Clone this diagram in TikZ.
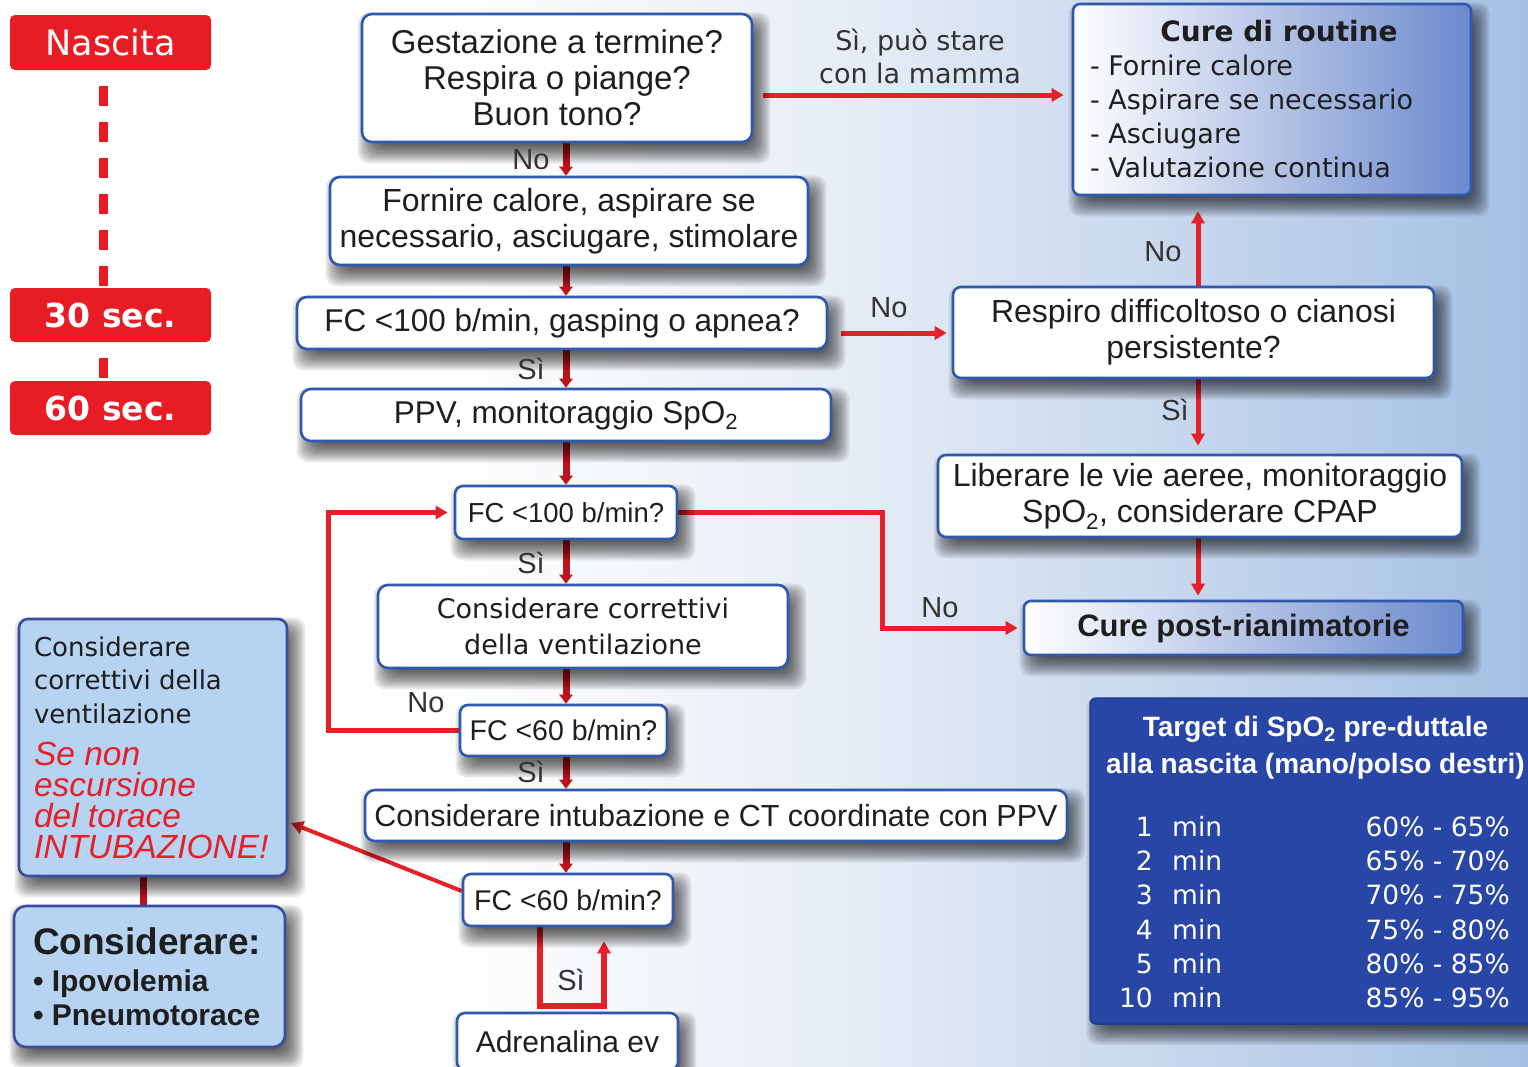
\documentclass[tikz,border=0pt]{standalone}
\usepackage{fontspec}
\setmainfont{Liberation Sans}
\newfontfamily\dvsans{DejaVu Sans}
\usetikzlibrary{arrows.meta,calc}
\setlength{\parindent}{0pt}
% use the natural interword space of the current font inside aligned nodes
\newcommand\fontspaces{\spaceskip=0pt\xspaceskip=0pt\relax}

\definecolor{bgmid}{RGB}{232,238,246}
\definecolor{bgright}{RGB}{165,192,228}
\definecolor{boxline}{RGB}{48,88,172}
\definecolor{arrowred}{RGB}{230,32,40}
\definecolor{darkred}{RGB}{188,18,28}
\definecolor{timered}{RGB}{232,28,36}
\definecolor{routblue}{RGB}{108,138,205}
\definecolor{tabblue}{RGB}{40,70,165}
\definecolor{sideblue}{RGB}{182,212,242}
\definecolor{sideline}{RGB}{58,78,160}
\definecolor{ink}{RGB}{30,30,30}
\definecolor{tagink}{RGB}{50,50,50}

% page background: white on the left, light blue on the right
\pgfdeclarehorizontalshading{pagebg}{100bp}{color(0bp)=(white); color(25bp)=(white); color(39bp)=(white); color(52bp)=(bgmid); color(75bp)=(bgright); color(100bp)=(bgright)}

\pgfdeclarelayer{back}
\pgfdeclarelayer{wires}
\pgfdeclarelayer{shadowlayer}
\pgfsetlayers{back,wires,shadowlayer,main}

% soft drop shadow under a node: stacked translucent rounded rectangles
\newcommand\softshadow[1]{%
  \foreach \e in {-10,-8,...,10} {
    \fill[black, fill opacity=0.085, rounded corners=11pt]
      ($(#1.north west)+({7-(\e)},{10-(\e)})$) rectangle ($(#1.south east)+({7+(\e)},{10+(\e)})$);
  }}

\begin{document}
\begin{tikzpicture}[x=1pt,y=-1pt,
  flow/.style={draw=boxline, line width=2.6pt, rounded corners=10pt, fill=white,
    text=ink, align=center, inner sep=0pt},
  timebox/.style={fill=timered, rounded corners=5pt, text=white, inner sep=0pt, minimum width=201pt},
  timeline/.style={draw=timered, line width=9pt, dash pattern=on 20pt off 16pt, dash phase=20pt},
  link/.style={draw=arrowred, line width=5pt, -{Triangle[length=12pt,width=13pt]}},
  down/.style={draw=darkred, line width=7pt, -{Triangle[length=9pt,width=13pt]}},
  tag/.style={text=tagink, font=\fontsize{29}{32}\selectfont, inner sep=0pt},
  tabcell/.style={text=white, font=\dvsans\fontsize{26.5}{30}\selectfont, inner sep=0pt},
]
\useasboundingbox (0,0) rectangle (1528,1066);
\begin{pgfonlayer}{back}
  \shade[shading=pagebg] (0,0) rectangle (1528,1066);
\end{pgfonlayer}

% ---- time markers on the left
\node[timebox, minimum height=55pt, font=\dvsans\fontsize{35}{38}\selectfont] (t0) at (110.5,42.5) {Nascita};
\node[timebox, minimum height=54pt, font=\dvsans\bfseries\fontsize{33}{36}\selectfont] (t30) at (110.5,315) {30 sec.};
\node[timebox, minimum height=54pt, font=\dvsans\bfseries\fontsize{33}{36}\selectfont] (t60) at (110.5,408) {60 sec.};

% ---- central column
\node[flow, minimum width=390pt, minimum height=128pt, font=\fontsize{33}{36}\selectfont] (b1) at (557,78)
  {Gestazione a termine?\\Respira o piange?\\Buon tono?};
\node[flow, minimum width=478pt, minimum height=88pt, font=\fontsize{32}{36}\selectfont] (b2) at (569,221)
  {Fornire calore, aspirare se\\necessario, asciugare, stimolare};
\node[flow, minimum width=530pt, minimum height=52pt, font=\fontsize{31.5}{36}\selectfont] (b3) at (562,323)
  {FC <100 b/min, gasping o apnea?};
\node[flow, minimum width=530pt, minimum height=52pt, font=\fontsize{31.5}{36}\selectfont] (b4) at (566,415)
  {PPV, monitoraggio SpO\textsubscript{2}};
\node[flow, rounded corners=8pt, minimum width=222pt, minimum height=53pt, font=\fontsize{27.5}{32}\selectfont] (b5) at (566,512.5)
  {FC <100 b/min?};
\node[flow, minimum width=410pt, minimum height=83pt, font=\dvsans\fontsize{27}{36}\selectfont] (b6) at (583,626.5)
  {Considerare correttivi\\della ventilazione};
\node[flow, rounded corners=8pt, minimum width=207pt, minimum height=51pt, font=\fontsize{28.5}{32}\selectfont] (b7) at (563.5,730.5)
  {FC <60 b/min?};
\node[flow, minimum width=702pt, minimum height=51pt, font=\fontsize{30.5}{34}\selectfont] (b8) at (716,815.5)
  {Considerare intubazione e CT coordinate con PPV};
\node[flow, rounded corners=8pt, minimum width=210pt, minimum height=52pt, font=\fontsize{28.5}{32}\selectfont] (b9) at (568,900)
  {FC <60 b/min?};
\node[flow, rounded corners=8pt, minimum width=221pt, minimum height=57pt, font=\fontsize{30}{34}\selectfont] (b10) at (567.5,1041.5)
  {Adrenalina ev};

% ---- right column
\node[flow, rounded corners=7pt, minimum width=398pt, minimum height=191pt, text width=364pt, inner xsep=17pt,
      align=left, left color=white, right color=routblue] (r1) at (1272,99.5)
  {{\centering\dvsans\bfseries\fontsize{28}{34}\selectfont\fontspaces\hspace*{14pt}Cure di routine\par}%
   {\dvsans\fontsize{27}{34}\selectfont\fontspaces - Fornire calore\\- Aspirare se necessario\\- Asciugare\\- Valutazione continua\par}};
\node[flow, rounded corners=8pt, minimum width=481pt, minimum height=91pt, font=\fontsize{32}{36}\selectfont] (r2) at (1193.5,332.5)
  {Respiro difficoltoso o cianosi\\persistente?};
\node[flow, rounded corners=8pt, minimum width=524pt, minimum height=82pt, font=\fontsize{32}{36}\selectfont] (r3) at (1200,496)
  {Liberare le vie aeree, monitoraggio\\SpO\textsubscript{2}, considerare CPAP};
\node[flow, rounded corners=7pt, minimum width=439pt, minimum height=54pt, left color=white, right color=routblue,
      font=\bfseries\fontsize{31}{34}\selectfont] (r4) at (1243.5,628)
  {Cure post-rianimatorie};

% ---- SpO2 target table
\node[draw=tabblue!85!black, line width=1.5pt, fill=tabblue, rounded corners=6pt, inner sep=0pt,
      minimum width=460pt, minimum height=326pt] (tab) at (1320,861) {};
\node[text=white, align=center, inner sep=0pt, font=\bfseries\fontsize{28}{37}\selectfont] (tabhead) at (1315.5,748)
  {Target di SpO\textsubscript{2} pre-duttale\\alla nascita (mano/polso destri)};
\foreach \n/\p/\y [count=\i] in {1/60\% - 65\%/836, 2/65\% - 70\%/870, 3/70\% - 75\%/904,
                                 4/75\% - 80\%/939, 5/80\% - 85\%/973, 10/85\% - 95\%/1007} {
  \node[tabcell, anchor=base east] (tn\i) at (1153,\y) {\n};
  \node[tabcell, anchor=base west] (tm\i) at (1172,\y) {min};
  \node[tabcell, anchor=base east] (tp\i) at (1510,\y) {\p};
}

% ---- side notes on the left
\node[flow, fill=sideblue, draw=sideline, rounded corners=9pt, minimum width=268pt, minimum height=257pt,
      text width=238pt, inner xsep=15pt, align=left] (L1) at (153,747.5)
  {{\dvsans\fontsize{26}{33.5}\selectfont\fontspaces Considerare\\correttivi della\\ventilazione\par}%
   \vspace{11pt}%
   {\color{arrowred}\itshape\fontsize{33.5}{31}\selectfont\fontspaces Se non\\escursione\\del torace\\INTUBAZIONE!\par}};
\node[flow, fill=sideblue, draw=sideline, rounded corners=12pt, minimum width=271pt, minimum height=141pt,
      text width=233pt, inner xsep=19pt, align=left] (L2) at (149.5,976.5)
  {{\bfseries\fontsize{37}{38}\selectfont\fontspaces Considerare:\par}%
   \vspace{3pt}%
   {\bfseries\fontsize{30}{34}\selectfont\fontspaces • Ipovolemia\\• Pneumotorace\par}};

% ---- branch labels
\node[tag] (lno1) at (531,160) {No};
\node[text=tagink, align=center, inner sep=0pt, font=\dvsans\fontsize{27}{33}\selectfont] (lsi1) at (920,56)
  {Sì, può stare\\con la mamma};
\node[tag] (lno2) at (889,308) {No};
\node[tag] (lsi2) at (531,369) {Sì};
\node[tag] (lno3) at (1163,252) {No};
\node[tag] (lsi3) at (1175,410) {Sì};
\node[tag] (lsi4) at (531,563) {Sì};
\node[tag] (lno4) at (940,608) {No};
\node[tag] (lno5) at (426,703) {No};
\node[tag] (lsi5) at (531,772) {Sì};
\node[tag] (lsi6) at (571,980) {Sì};

% ---- drop shadows under the boxes
\begin{pgfonlayer}{shadowlayer}
  \foreach \b in {b1,b2,b3,b4,b5,b6,b7,b8,b9,b10,r1,r2,r3,r4,tab,L1,L2} {\softshadow{\b}}
\end{pgfonlayer}

% ---- connectors
\coordinate (tx) at (103,0);
\coordinate (colx) at (566,0);
\coordinate (colr) at (1198,0);
\coordinate (rowa) at (0,95);
\coordinate (rowb) at (0,333);
\coordinate (knee) at (882,0);
\coordinate (loopx) at (328,0);
\coordinate (lcol) at (143,0);

\begin{pgfonlayer}{wires}
  \draw[timeline] (t0.south -| tx) -- (t30.north -| tx);
  \draw[timeline] (t30.south -| tx) -- (t60.north -| tx);

  \draw[down] (b1.south -| colx) -- (b2.north -| colx);
  \draw[down] (b2.south -| colx) -- (b3.north -| colx);
  \draw[down] (b3.south -| colx) -- (b4.north -| colx);
  \draw[down] (b4.south -| colx) -- (b5.north -| colx);
  \draw[down] (b5.south -| colx) -- (b6.north -| colx);
  \draw[down] (b6.south -| colx) -- (b7.north -| colx);
  \draw[down] (b7.south -| colx) -- (b8.north -| colx);
  \draw[down] (b8.south -| colx) -- (b9.north -| colx);

  \draw[link, shorten <=10pt, shorten >=8pt] (b1.east |- rowa) -- (r1.west |- rowa);
  \draw[link, shorten <=13pt, shorten >=5pt] (b3.east |- rowb) -- (r2.west |- rowb);
  \draw[link, shorten >=15pt] (r2.north -| colr) -- (r1.south -| colr);
  \draw[link, shorten >=8pt] (r2.south -| colr) -- (r3.north -| colr);
  \draw[link, shorten >=4pt] (r3.south -| colr) -- (r4.north -| colr);
  \draw[link, shorten >=5pt] (b5.east) -- (b5.east -| knee) -- (knee |- r4.west) -- (r4.west);
  \draw[link, shorten >=6pt] (b7.west) -- (b7.west -| loopx) -- (loopx |- b5.west) -- (b5.west);
  \draw[link, line width=4pt, shorten >=3pt] ([yshift=9pt]b9.west) -- ([yshift=-74.5pt]L1.east);
  \draw[link, line width=6pt] ([xshift=-28pt]b9.south) -- ++(0,79) -| ([xshift=36pt,yshift=-14pt]b9.south);
  \draw[draw=darkred, line width=7pt] (L1.south -| lcol) -- (L2.north -| lcol);
\end{pgfonlayer}
\end{tikzpicture}
\end{document}
